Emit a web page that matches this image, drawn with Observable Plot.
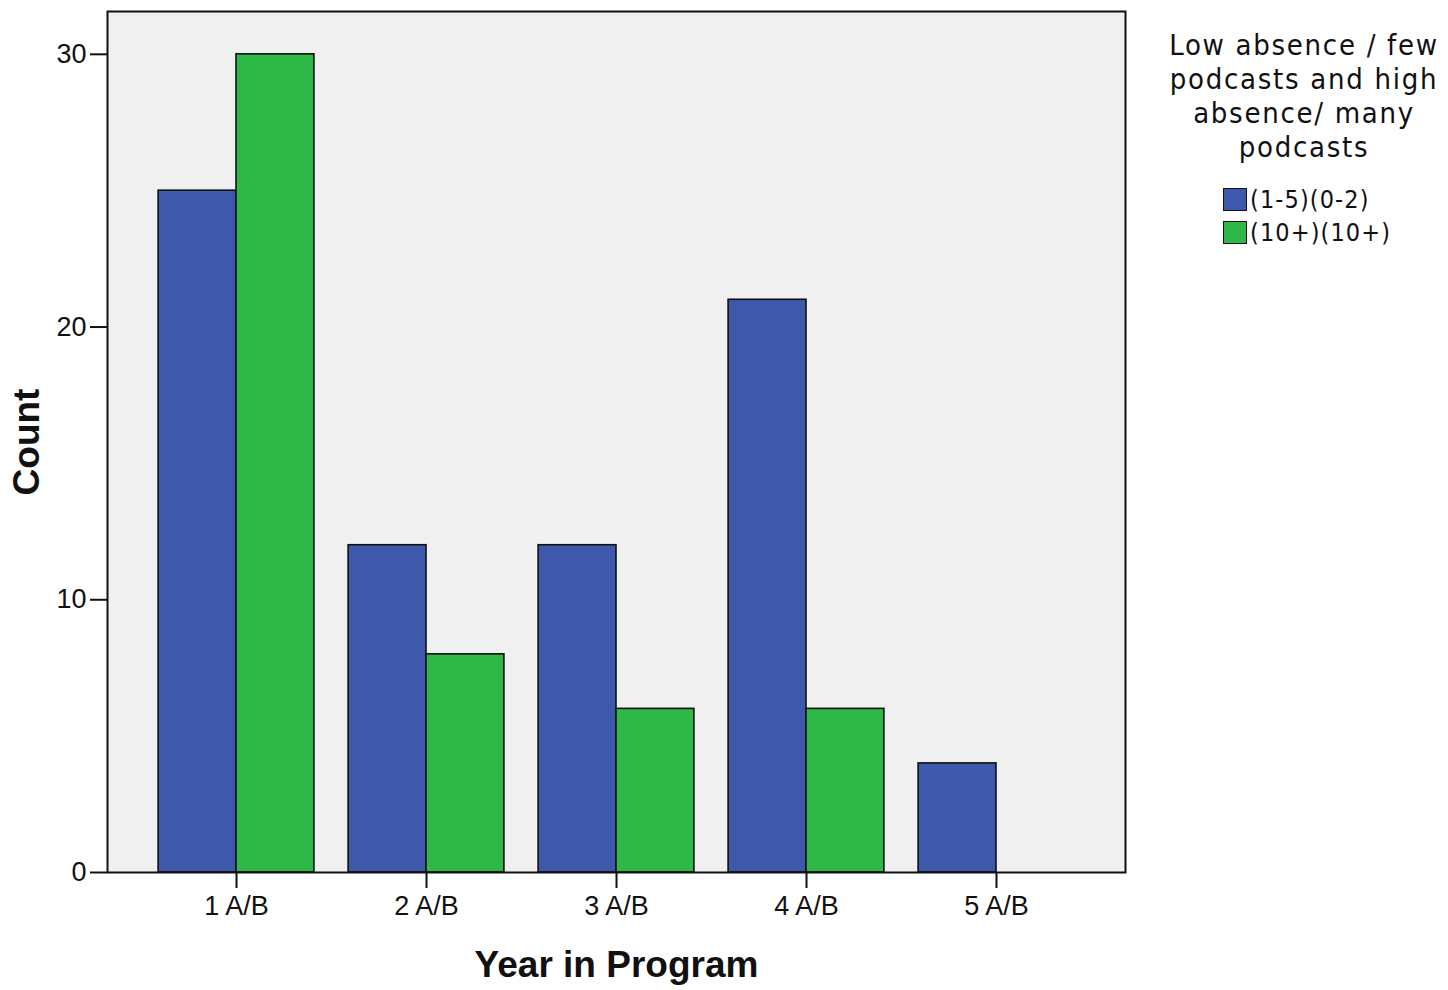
<!DOCTYPE html>
<html>
<head>
<meta charset="utf-8">
<script src="https://cdn.jsdelivr.net/npm/d3@7"></script>
<script src="https://cdn.jsdelivr.net/npm/@observablehq/plot@0.6"></script>
<style>
  html, body { margin: 0; padding: 0; background: #fff; }
  #wrap { position: relative; width: 1448px; height: 990px; overflow: hidden; }
  #legend { position: absolute; left: 1160px; top: 28px; width: 288px; font-family: "DejaVu Sans Condensed", "DejaVu Sans", sans-serif; font-stretch: condensed; color: #111; }
  #legend .title { text-align: center; font-size: 29px; line-height: 34px; letter-spacing: 1.7px; width: 288px; }
  #legend .items { margin-top: 19px; margin-left: 63px; }
  #legend .item { display: flex; align-items: center; height: 33px; font-size: 25px; line-height: 29px; letter-spacing: 1.1px; }
  #legend .sw { width: 22px; height: 21px; border: 1.5px solid #111; margin-right: 3px; box-sizing: content-box; }
</style>
</head>
<body>
<div id="wrap"></div>
<script>
// ---- data ----
const years = ["1 A/B", "2 A/B", "3 A/B", "4 A/B", "5 A/B"];
const seriesNames = ["(1-5)(0-2)", "(10+)(10+)"];
const lowFew = [25, 12, 12, 21, 4];      // (1-5)(0-2)
const highMany = [30, 8, 6, 6, 0];       // (10+)(10+)
const yTicks = [0, 10, 20, 30];
const colors = ["#3E58AC", "#2EB848"];
const legendTitle = ["Low absence / few", "podcasts and high", "absence/ many", "podcasts"];

// grouped bar table: each year occupies one unit on the x scale, two bars side by side
const barWidth = 0.41;
const rows = [];
years.forEach((yr, i) => {
  rows.push({year: yr, series: seriesNames[0], value: lowFew[i], x1: i + 1 - barWidth, x2: i + 1});
  rows.push({year: yr, series: seriesNames[1], value: highMany[i], x1: i + 1, x2: i + 1 + barWidth});
});

const chart = Plot.plot({
  width: 1448,
  height: 990,
  marginLeft: 107,
  marginRight: 323,
  marginTop: 11,
  marginBottom: 118,
  style: {fontFamily: "'Liberation Sans', Arial, sans-serif", fontSize: "27px", color: "#111", background: "#fff"},
  x: {type: "linear", domain: [0.321, 5.679]},
  y: {domain: [0, 31.57]},
  color: {domain: seriesNames, range: colors},
  marks: [
    Plot.frame({fill: "#f0f0f0"}),
    Plot.rect(rows.filter(d => d.value > 0), {
      x1: "x1", x2: "x2", y1: 0, y2: "value",
      fill: "series", stroke: "#111", strokeWidth: 1.6
    }),
    Plot.frame({stroke: "#111", strokeWidth: 2}),
    Plot.axisX({
      ticks: years.map((_, i) => i + 1),
      tickFormat: v => years[v - 1],
      tickSize: 16, tickPadding: 7, strokeWidth: 2,
      fontSize: 27, label: null
    }),
    Plot.axisY({
      ticks: yTicks, tickSize: 17, tickPadding: 4, strokeWidth: 2,
      fontSize: 27, label: null
    }),
    Plot.text(["Count"], {frameAnchor: "left", textAnchor: "middle", dx: -80, rotate: -90, fontSize: 37, fontWeight: "bold"}),
    Plot.text(["Year in Program"], {frameAnchor: "bottom", textAnchor: "middle", dy: 104, fontSize: 37, fontWeight: "bold"})
  ]
});

const wrap = document.getElementById("wrap");
wrap.appendChild(chart);

// legend (to the right of the plot)
const leg = document.createElement("div");
leg.id = "legend";
const title = document.createElement("div");
title.className = "title";
title.innerHTML = legendTitle.join("<br>");
leg.appendChild(title);
const items = document.createElement("div");
items.className = "items";
seriesNames.forEach((name, i) => {
  const it = document.createElement("div");
  it.className = "item";
  const sw = document.createElement("span");
  sw.className = "sw";
  sw.style.background = colors[i];
  const tx = document.createElement("span");
  tx.textContent = name;
  it.appendChild(sw);
  it.appendChild(tx);
  items.appendChild(it);
});
leg.appendChild(items);
wrap.appendChild(leg);
</script>
</body>
</html>
